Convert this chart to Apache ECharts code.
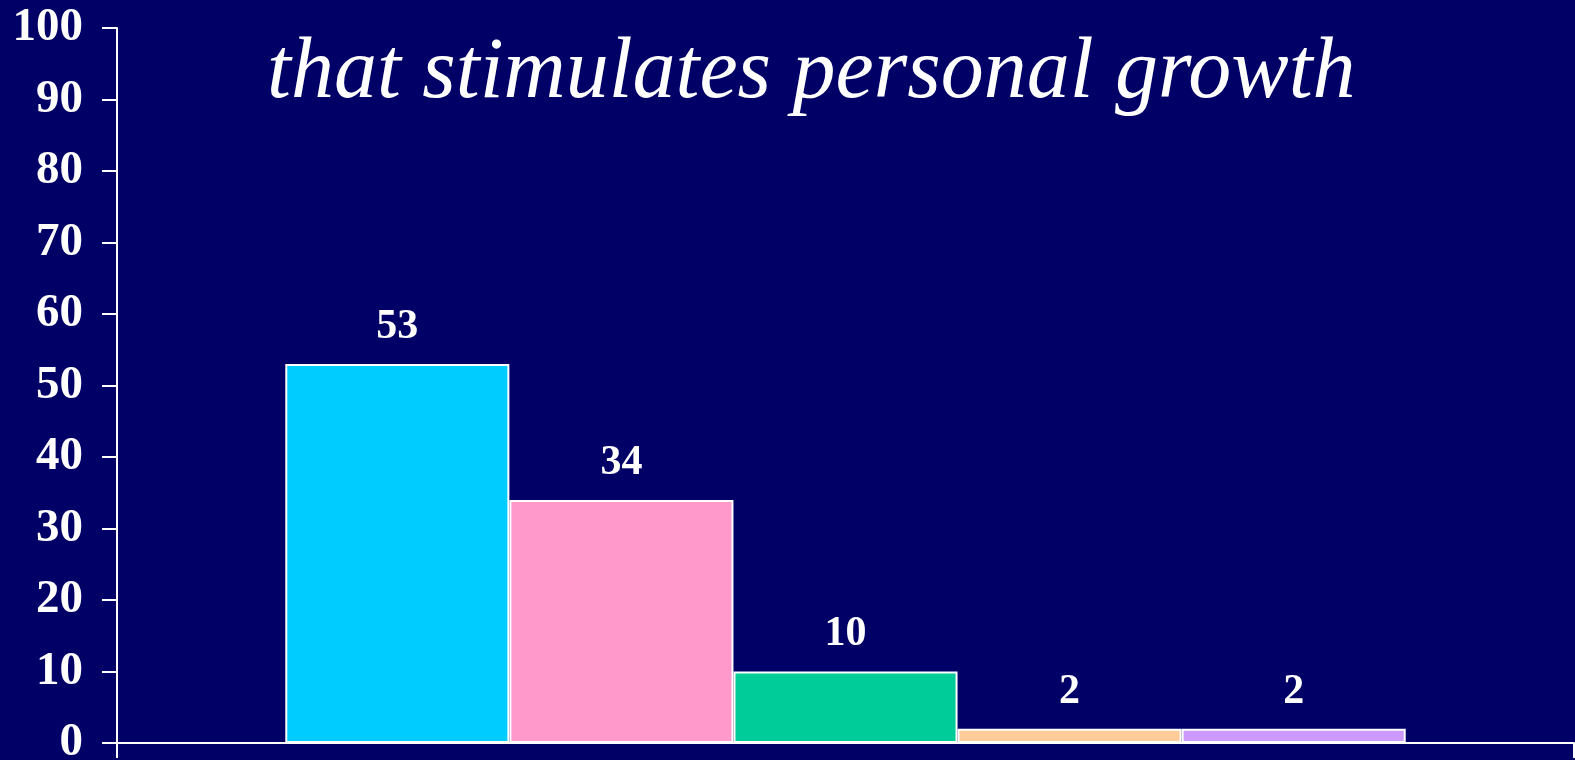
<!DOCTYPE html>
<html>
<head>
<meta charset="utf-8">
<script src="https://cdn.jsdelivr.net/npm/echarts@6/dist/echarts.min.js"></script>
<style>
  html, body { margin: 0; padding: 0; background: #000066; overflow: hidden; }
  #chart { width: 1575px; height: 760px; }
</style>
</head>
<body>
<div id="chart"></div>
<script>
// datos del gráfico
const categorias = [''];
const nombresSeries = ['A', 'B', 'C', 'D', 'E'];
const valores = [53, 34, 10, 2, 2];
const colores = ['#00CCFF', '#FF99CC', '#00CC99', '#FFCC99', '#CC99FF'];
const ticksY = [0, 10, 20, 30, 40, 50, 60, 70, 80, 90, 100];

const fuente = '"Liberation Serif", "Times New Roman", serif';

document.addEventListener('DOMContentLoaded', function() {
    const chart = echarts.init(document.getElementById('chart'));

    const series = nombresSeries.map((nombre, i) => ({
        name: nombre,
        type: 'bar',
        data: [valores[i]],
        barGap: '0%',
        barCategoryGap: '23.1%',
        itemStyle: {
            color: colores[i],
            borderColor: '#ffffff',
            borderWidth: 2
        },
        label: {
            show: true,
            position: 'top',
            distance: 16,
            color: '#ffffff',
            fontFamily: fuente,
            fontWeight: 'bold',
            fontSize: 42
        }
    }));

    chart.setOption({
        backgroundColor: '#000066',
        animation: false,
        title: {
            text: 'that stimulates personal growth',
            left: 262,
            top: 26,
            textStyle: {
                color: '#ffffff',
                fontFamily: fuente,
                fontStyle: 'italic',
                fontWeight: 'normal',
                fontSize: 86
            }
        },
        grid: {
            left: 117,
            right: 1,
            top: 28,
            bottom: 17,
            containLabel: false,
            outerBoundsMode: 'none'
        },
        xAxis: {
            type: 'category',
            data: categorias,
            axisLine: { lineStyle: { color: '#ffffff', width: 2 } },
            axisTick: { show: true, length: 15, lineStyle: { color: '#ffffff', width: 2 } },
            axisLabel: { show: false },
            splitLine: { show: false }
        },
        yAxis: {
            type: 'value',
            min: ticksY[0],
            max: ticksY[ticksY.length - 1],
            interval: 10,
            axisLine: { show: true, lineStyle: { color: '#ffffff', width: 2 } },
            axisTick: { show: true, length: 15, lineStyle: { color: '#ffffff', width: 2 } },
            splitLine: { show: false },
            axisLabel: {
                margin: 34,
                color: '#ffffff',
                fontFamily: fuente,
                fontWeight: 'bold',
                fontSize: 47
            }
        },
        series: series
    });

    window.addEventListener('resize', function() {
        chart.resize();
    });
});
</script>
</body>
</html>
